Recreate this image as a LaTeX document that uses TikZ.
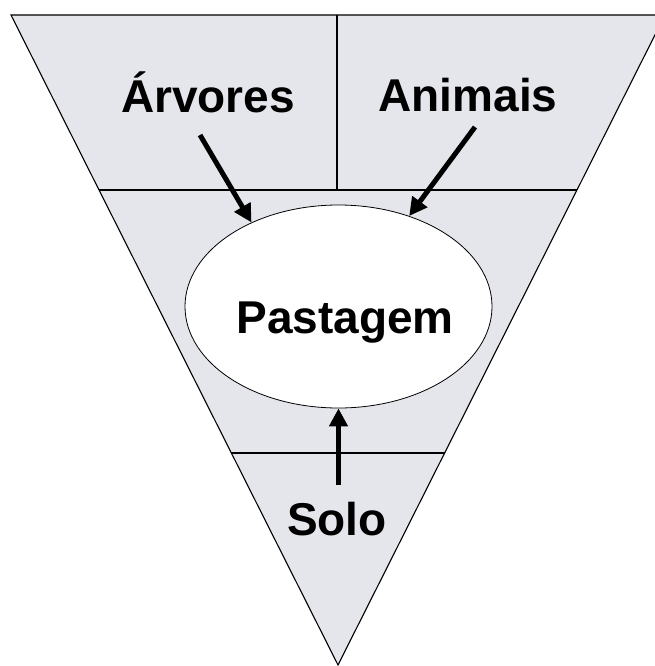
\documentclass[tikz,border=0pt]{standalone}
\usepackage{fontspec}
\setmainfont{Liberation Sans}
\usetikzlibrary{arrows.meta,shapes.geometric}
\definecolor{panel}{RGB}{229,230,236}
\tikzset{
  lbl/.style={font=\fontsize{46}{50}\selectfont\bfseries, anchor=base, inner sep=0pt},
  thin/.style={draw=black, line width=1.1pt},
  bigarrow/.style={line width=5pt, -{Triangle[length=18pt,width=18pt]}},
}
\begin{document}
\begin{tikzpicture}[x=1pt,y=-1pt]
\useasboundingbox (0,0) rectangle (654,666);
\fill[panel] (11,15) -- (665,15) -- (338,665) -- cycle;
\draw[thin] (11,15) -- (665,15) -- (338,665) -- cycle;
\draw[thin] (99,190) -- (577,190);
\draw[thin] (337,15) -- (337,190);
\draw[thin] (231,453) -- (445,453);
\node[ellipse, draw=black, line width=0.8pt, fill=white, minimum width=307pt, minimum height=203pt, inner sep=0pt] (past) at (338.5,306.5) {};
\node[lbl] (pasttxt) at (345,333) {Pastagem};
\node[lbl] (arv) at (208,113) {Árvores};
\node[lbl] (ani) at (468,112) {Animais};
\node[lbl] (solo) at (337,535) {Solo};
\coordinate (arvs) at (200,135);
\coordinate (anis) at (475,127);
\coordinate (solos) at (338.5,485);
\draw[bigarrow] (arvs) -- (past.136);
\draw[bigarrow] (anis) -- (past.52);
\draw[bigarrow] (solos) -- (past.south);
\end{tikzpicture}
\end{document}
